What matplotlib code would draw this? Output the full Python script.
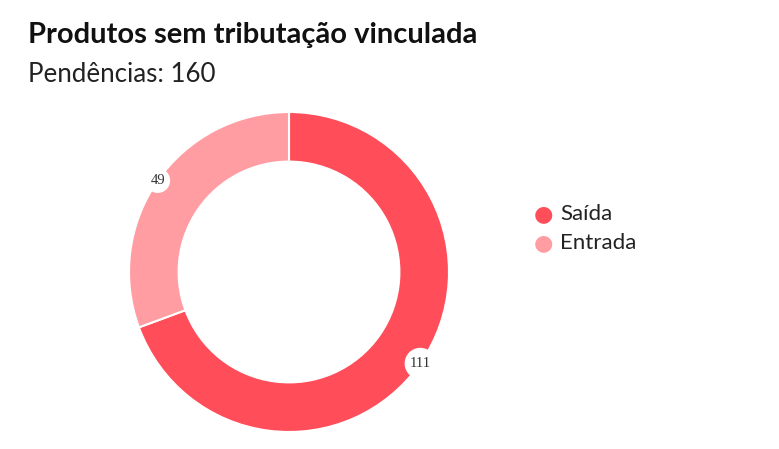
import numpy as np
import matplotlib

matplotlib.use("Agg")
import matplotlib.pyplot as plt

labels = ["Saída", "Entrada"]
values = [111, 49]
colors = ["#FF4D5A", "#FF9DA3"]
title = "Produtos sem tributação vinculada"
subtitle = "Pendências: %d" % sum(values)

W, H = 779, 449
fig = plt.figure(figsize=(W / 100, H / 100), dpi=100)
plt.rcParams["font.family"] = ["Lato", "DejaVu Sans"]

# pie axes in pixel terms
cx, cy, half = 289, H - 272, 170
ax = fig.add_axes([(cx - half) / W, (cy - half) / H, 2 * half / W, 2 * half / H])
R = 160 / half
wedges, _ = ax.pie(values, colors=colors, radius=R, startangle=90, counterclock=False,
                   wedgeprops=dict(width=R * 0.31, edgecolor="white", linewidth=1.5))
ax.set_xlim(-1, 1)
ax.set_ylim(-1, 1)
ax.set_aspect("equal")
ax.axis("off")

# value badges on the outer edge
for w, v in zip(wedges, values):
    ang = np.deg2rad((w.theta1 + w.theta2) / 2)
    x, y = R * np.cos(ang), R * np.sin(ang)
    ax.text(x, y, str(v), ha="center", va="center", fontsize=10.5,
            family="Liberation Serif", color="#333333",
            bbox=dict(boxstyle="circle,pad=0.35", fc="white", ec="none"))

fig.text(28 / W, 1 - 43 / H, title, fontsize=21, fontweight="bold", color="#111111",
         va="baseline")
fig.text(28 / W, 1 - 82 / H, subtitle, fontsize=18.6, color="#222222", va="baseline")

# legend
for i, (lab, c) in enumerate(zip(labels, colors)):
    y = 1 - (214 + 29 * i) / H
    fig.text(543 / W, y, "\u25CF", fontsize=16, color=c, ha="center", va="center",
             family="DejaVu Sans")
    fig.text(560 / W, y, lab, fontsize=16, color="#222222", va="center")

fig.savefig("out.png", dpi=100)
